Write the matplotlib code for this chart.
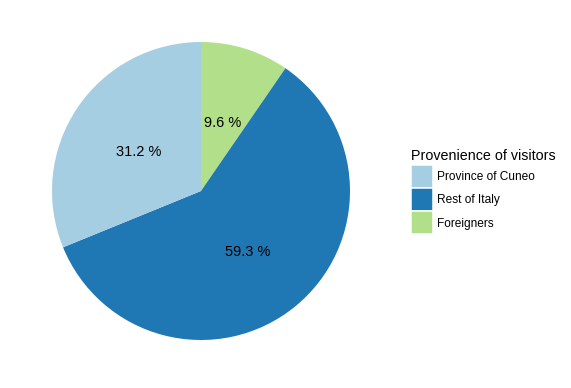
import matplotlib
matplotlib.use("Agg")
import matplotlib.pyplot as plt
import numpy as np
from matplotlib.patches import Patch

categories = ["Province of Cuneo", "Rest of Italy", "Foreigners"]
shares = [31.2, 59.3, 9.6]
colors = ["#A6CEE3", "#1F78B4", "#B2DF8A"]
legend_title = "Provenience of visitors"

plt.rcParams['font.family'] = ['Liberation Sans', 'DejaVu Sans']

W, H = 571, 388
fig = plt.figure(figsize=(W/100, H/100), dpi=100)
cx, cy, r = 201, 191, 149
ax = fig.add_axes([(cx - r)/W, (H - cy - r)/H, 2*r/W, 2*r/H])

# clockwise from 12 o'clock: Foreigners, Rest of Italy, Province of Cuneo
order = [2, 1, 0]
vals = [shares[i] for i in order]
cols = [colors[i] for i in order]
ax.pie(vals, colors=cols, startangle=90, counterclock=False,
       radius=1.0, wedgeprops=dict(linewidth=0))
total = sum(vals)
ang = 90.0
for v in vals:
    mid = ang - v/total*360/2
    ang -= v/total*360
    x = 0.5*np.cos(np.deg2rad(mid))
    y = 0.5*np.sin(np.deg2rad(mid))
    ax.annotate(f"{v} %", (x, y), xytext=(0, -4.8), textcoords="offset points",
                ha="center", va="baseline", fontsize=10.5, color="black")
ax.set_xlim(-1, 1)
ax.set_ylim(-1, 1)
ax.set_aspect("equal")
ax.axis("off")

fig.text(411/W, 1 - 160/H, legend_title, ha="left", va="baseline", fontsize=10.3)
handles = [Patch(facecolor=c, edgecolor="white", linewidth=1.1) for c in colors]
leg = fig.legend(handles, categories, loc="upper left",
                 bbox_to_anchor=(410.5/W, 1 - 165.3/H), borderaxespad=0, borderpad=0,
                 frameon=False, fontsize=8.6,
                 handlelength=1.88, handleheight=2.59, labelspacing=0.0,
                 handletextpad=0.3)
fig.savefig("out.png", dpi=100)
